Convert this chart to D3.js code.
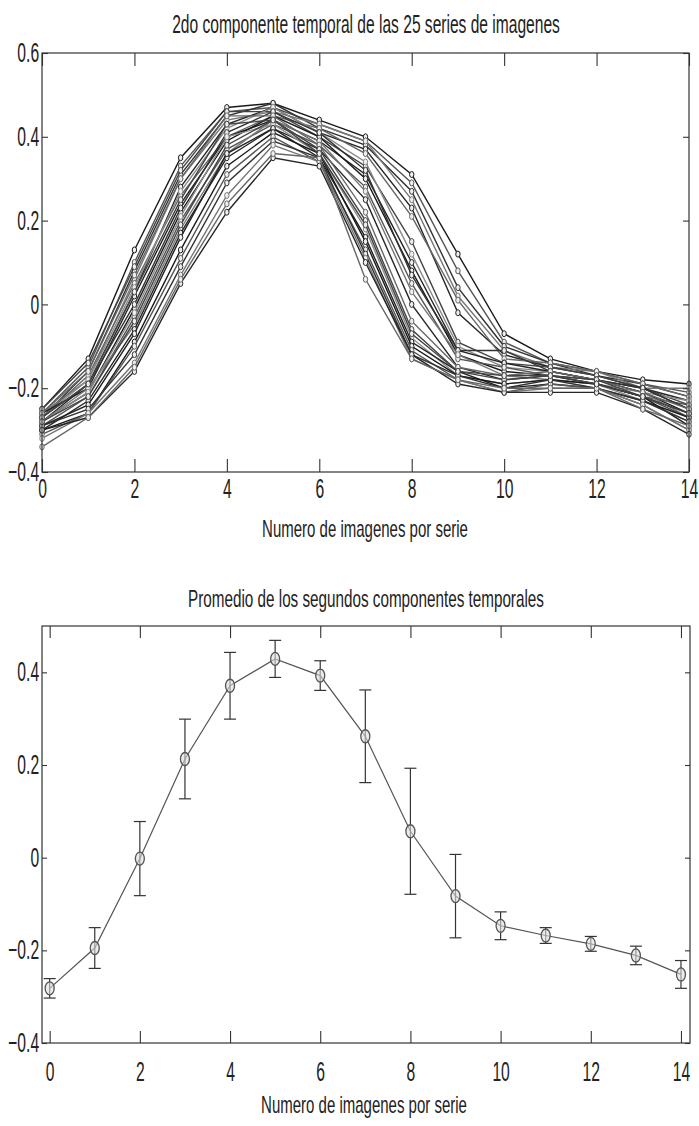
<!DOCTYPE html>
<html><head><meta charset="utf-8">
<script src="https://cdn.jsdelivr.net/npm/d3@7"></script>
<style>body{margin:0;background:#fff} svg{display:block}</style>
</head><body><svg id="c" width="699" height="1126"></svg>
<script>
// ---------- data ----------
const imageIndex = [0,1,2,3,4,5,6,7,8,9,10,11,12,13,14];
const xTickValues = [0,2,4,6,8,10,12,14];
const yTicksTop = [-0.4,-0.2,0,0.2,0.4,0.6];
const yTicksBottom = [-0.4,-0.2,0,0.2,0.4];

const s01 = [-0.25,-0.13,0.13,0.35,0.47,0.48,0.44,0.40,0.31,0.12,-0.07,-0.13,-0.16,-0.18,-0.19];
const s02 = [-0.26,-0.15,0.10,0.33,0.46,0.47,0.43,0.39,0.29,0.08,-0.09,-0.14,-0.16,-0.19,-0.21];
const s03 = [-0.27,-0.16,0.08,0.31,0.45,0.48,0.42,0.38,0.27,0.04,-0.10,-0.14,-0.17,-0.19,-0.22];
const s04 = [-0.26,-0.18,0.06,0.30,0.44,0.46,0.43,0.39,0.25,0.02,-0.11,-0.15,-0.16,-0.20,-0.20];
const s05 = [-0.28,-0.19,0.03,0.28,0.43,0.47,0.41,0.37,0.23,-0.02,-0.12,-0.15,-0.17,-0.20,-0.23];
const s06 = [-0.27,-0.17,0.05,0.26,0.40,0.45,0.42,0.36,0.21,0.01,-0.13,-0.14,-0.16,-0.19,-0.22];
const s07 = [-0.25,-0.14,0.09,0.32,0.46,0.46,0.40,0.33,0.15,-0.09,-0.14,-0.15,-0.17,-0.20,-0.24];
const s08 = [-0.27,-0.18,0.04,0.27,0.42,0.47,0.41,0.34,0.12,-0.10,-0.15,-0.16,-0.18,-0.21,-0.23];
const s09 = [-0.26,-0.20,0.02,0.24,0.40,0.44,0.39,0.31,0.10,-0.11,-0.14,-0.16,-0.18,-0.20,-0.25];
const s10 = [-0.28,-0.21,-0.01,0.22,0.39,0.45,0.40,0.30,0.08,-0.12,-0.16,-0.17,-0.18,-0.21,-0.26];
const s11 = [-0.29,-0.22,-0.03,0.20,0.37,0.43,0.38,0.28,0.05,-0.13,-0.15,-0.17,-0.19,-0.22,-0.24];
const s12 = [-0.27,-0.19,0.00,0.23,0.41,0.46,0.41,0.32,0.07,-0.11,-0.11,-0.16,-0.18,-0.20,-0.25];
const s13 = [-0.28,-0.20,-0.05,0.18,0.36,0.44,0.39,0.27,0.03,-0.12,-0.17,-0.18,-0.19,-0.21,-0.27];
const s14 = [-0.30,-0.23,-0.06,0.17,0.35,0.42,0.37,0.25,0.00,-0.15,-0.18,-0.17,-0.19,-0.22,-0.26];
const s15 = [-0.26,-0.16,0.07,0.30,0.45,0.45,0.38,0.22,-0.04,-0.15,-0.17,-0.16,-0.18,-0.21,-0.25];
const s16 = [-0.27,-0.19,0.03,0.25,0.43,0.44,0.37,0.20,-0.06,-0.16,-0.18,-0.17,-0.18,-0.22,-0.27];
const s17 = [-0.28,-0.21,-0.02,0.21,0.40,0.43,0.36,0.18,-0.08,-0.17,-0.19,-0.18,-0.19,-0.23,-0.28];
const s18 = [-0.29,-0.24,-0.07,0.16,0.36,0.42,0.35,0.16,-0.09,-0.16,-0.20,-0.19,-0.20,-0.23,-0.27];
const s19 = [-0.30,-0.26,-0.09,0.13,0.33,0.41,0.36,0.15,-0.10,-0.17,-0.19,-0.18,-0.19,-0.22,-0.29];
const s20 = [-0.31,-0.26,-0.10,0.11,0.31,0.40,0.34,0.13,-0.11,-0.18,-0.21,-0.19,-0.20,-0.24,-0.30];
const s21 = [-0.29,-0.25,-0.12,0.09,0.29,0.39,0.35,0.12,-0.12,-0.17,-0.20,-0.18,-0.20,-0.23,-0.28];
const s22 = [-0.32,-0.26,-0.14,0.07,0.26,0.38,0.34,0.11,-0.13,-0.18,-0.21,-0.20,-0.20,-0.24,-0.30];
const s23 = [-0.30,-0.27,-0.16,0.05,0.22,0.35,0.33,0.10,-0.12,-0.19,-0.21,-0.21,-0.21,-0.25,-0.31];
const s24 = [-0.34,-0.27,-0.15,0.06,0.24,0.36,0.35,0.06,-0.13,-0.18,-0.20,-0.20,-0.20,-0.25,-0.29];
const s25 = [-0.28,-0.22,-0.04,0.19,0.38,0.44,0.36,0.19,-0.07,-0.16,-0.17,-0.17,-0.19,-0.22,-0.26];
const allSeries = [s01,s02,s03,s04,s05,s06,s07,s08,s09,s10,s11,s12,s13,s14,s15,s16,s17,s18,s19,s20,s21,s22,s23,s24,s25];

const meanValues = [-0.282,-0.195,-0.002,0.213,0.371,0.429,0.393,0.262,0.057,-0.083,-0.147,-0.168,-0.186,-0.211,-0.252];
const errorValues = [0.021,0.044,0.080,0.086,0.072,0.040,0.032,0.100,0.136,0.090,0.030,0.017,0.016,0.020,0.030];

const titleTop = "2do componente temporal de las 25 series de imagenes";
const titleBottom = "Promedio de los segundos componentes temporales";
const xLabel = "Numero de imagenes por serie";

// ---------- drawing ----------
const svg = d3.select("#c");
const FONT = "'Liberation Sans', Arial, sans-serif";
const lineGrays = ["#1a1a1a","#555","#333","#777","#262626","#666","#444","#8a8a8a","#222"];

function frame(g, x, y, L, R, T, B, yTicks, xTickLen, yTickLen, xPad) {
  g.append("g").attr("transform",`translate(0,${B})`)
    .call(d3.axisBottom(x).tickValues(xTickValues).tickSize(-xTickLen).tickPadding(xPad).tickFormat(d3.format("d")))
    .call(a=>a.select(".domain").remove());
  g.append("g").attr("transform",`translate(0,${T})`)
    .call(d3.axisTop(x).tickValues(xTickValues).tickSize(-xTickLen).tickFormat(""))
    .call(a=>a.select(".domain").remove());
  g.append("g").attr("transform",`translate(${L},0)`)
    .call(d3.axisLeft(y).tickValues(yTicks).tickSize(-yTickLen).tickPadding(5).tickFormat(d=>d===0?"0":d3.format(".1f")(d)))
    .call(a=>a.select(".domain").remove());
  g.append("g").attr("transform",`translate(${R},0)`)
    .call(d3.axisRight(y).tickValues(yTicks).tickSize(-yTickLen).tickFormat(""))
    .call(a=>a.select(".domain").remove());
  g.selectAll(".tick line").attr("stroke","#333").attr("stroke-width",1.1);
  g.selectAll(".tick text").attr("font-family",FONT).attr("font-size",27).attr("fill","#222")
    .attr("transform","scale(0.58,1)");
  g.append("rect").attr("x",L).attr("y",T).attr("width",R-L).attr("height",B-T)
    .attr("fill","none").attr("stroke","#333").attr("stroke-width",1.2);
}

// condensed label: natural text scaled horizontally to the wanted width
function label(text, cx, y, size, len) {
  const t = svg.append("text").attr("text-anchor","middle")
    .attr("font-family",FONT).attr("font-size",size).attr("fill","#222").text(text);
  const natural = t.node().getComputedTextLength();
  t.attr("transform",`translate(${cx},${y}) scale(${len/natural},1)`);
}

// Top chart
{
  const L=42,R=689,T=53,B=472;
  const x = d3.scaleLinear().domain([0,14]).range([L,R]);
  const y = d3.scaleLinear().domain([-0.4,0.6]).range([B,T]);
  const g = svg.append("g");
  const line = d3.line().x((d,i)=>x(imageIndex[i])).y(d=>y(d));
  const sg = g.append("g");
  allSeries.forEach((s,k)=>{
    const col = lineGrays[k%lineGrays.length];
    sg.append("path").attr("d",line(s)).attr("fill","none").attr("stroke",col).attr("stroke-width",1.4);
    sg.selectAll(null).data(s).enter().append("ellipse")
      .attr("cx",(d,i)=>x(imageIndex[i])).attr("cy",d=>y(d)).attr("rx",2.2).attr("ry",3)
      .attr("fill","#eee").attr("stroke",col).attr("stroke-width",1);
  });
  frame(g,x,y,L,R,T,B,yTicksTop,13,6,7);
  label(titleTop, 366, 33, 25, 388);
  label(xLabel, 365, 537, 23, 206);
}

// Bottom chart
{
  const L=42,R=690,T=626,B=1043;
  const x = d3.scaleLinear().domain([-0.17,14.2]).range([L,R]);
  const y = d3.scaleLinear().domain([-0.4,0.5]).range([B,T]);
  const g = svg.append("g");
  const line = d3.line().x((d,i)=>x(imageIndex[i])).y(d=>y(d));
  g.append("path").attr("d",line(meanValues)).attr("fill","none").attr("stroke","#555").attr("stroke-width",1.2);
  const eb = g.append("g").attr("stroke","#333").attr("stroke-width",1.2);
  meanValues.forEach((m,i)=>{
    const cx = x(imageIndex[i]), y1 = y(m+errorValues[i]), y2 = y(m-errorValues[i]);
    eb.append("line").attr("x1",cx).attr("x2",cx).attr("y1",y1).attr("y2",y2);
    eb.append("line").attr("x1",cx-6).attr("x2",cx+6).attr("y1",y1).attr("y2",y1);
    eb.append("line").attr("x1",cx-6).attr("x2",cx+6).attr("y1",y2).attr("y2",y2);
  });
  g.selectAll(null).data(meanValues).enter().append("ellipse")
    .attr("cx",(d,i)=>x(imageIndex[i])).attr("cy",d=>y(d)).attr("rx",4.5).attr("ry",6.5)
    .attr("fill","#ddd").attr("fill-opacity",0.6).attr("stroke","#555").attr("stroke-width",1.3);
  frame(g,x,y,L,R,T,B,yTicksBottom,12,5,19);
  label(titleBottom, 366, 607, 24, 356);
  label(xLabel, 364, 1113, 23, 206);
}
</script></body></html>
